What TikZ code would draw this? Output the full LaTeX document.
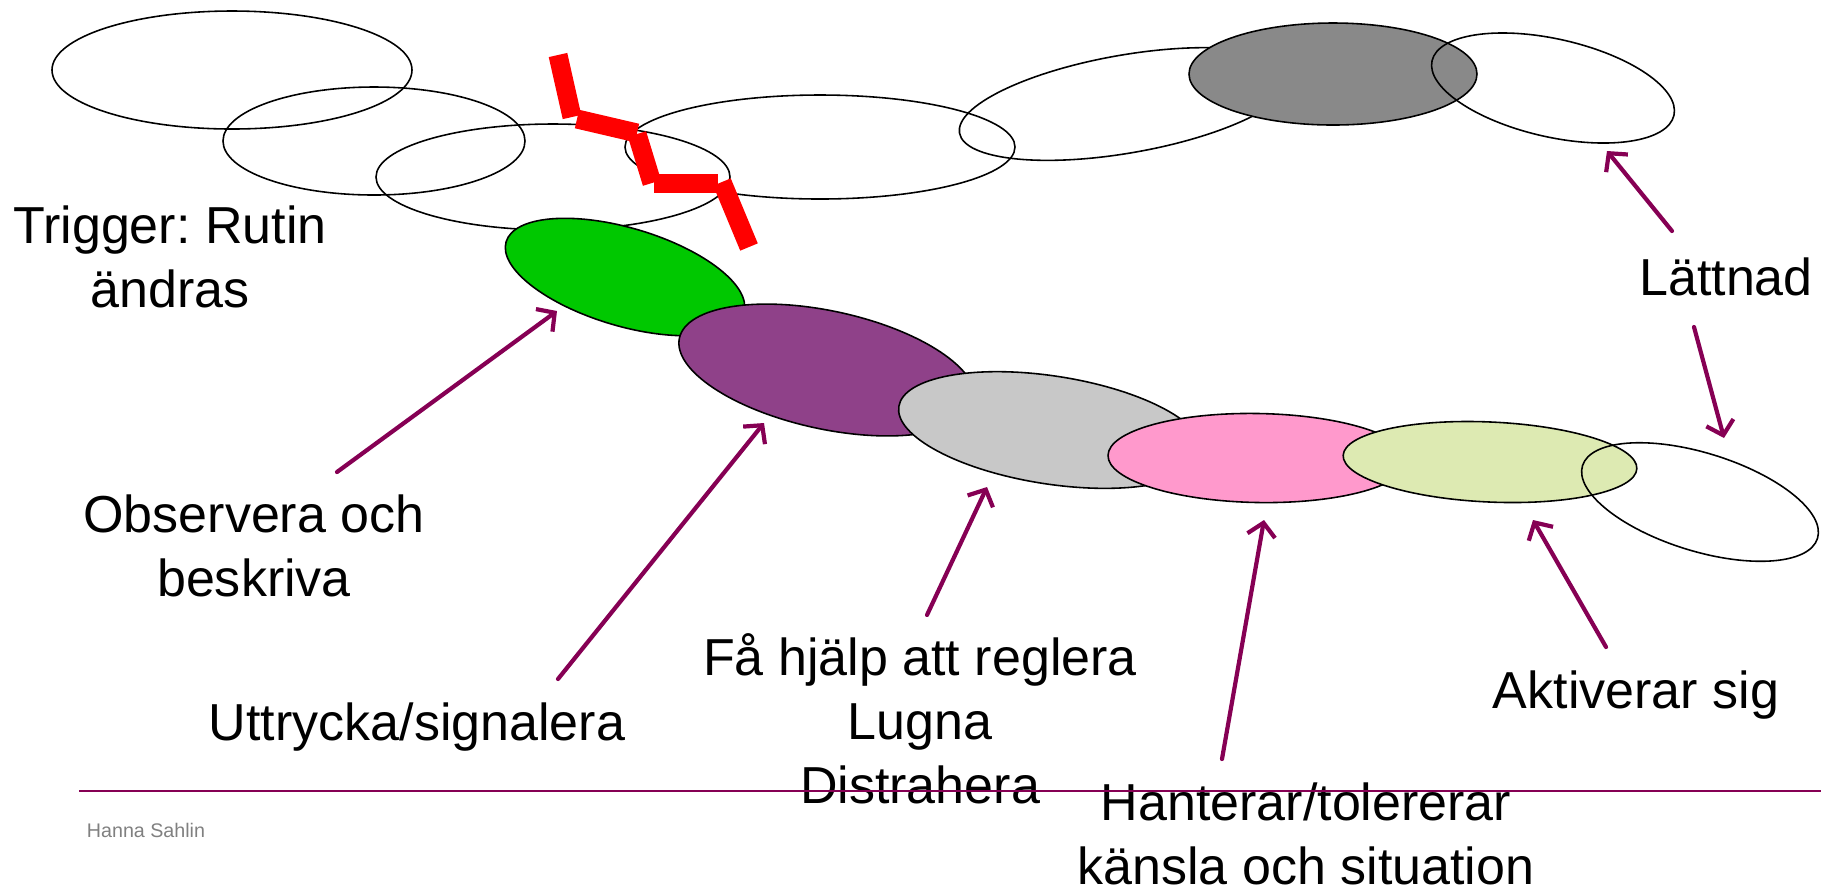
\documentclass[tikz,border=0pt]{standalone}
\usepackage{fontspec}
\setmainfont{Liberation Sans}
\usetikzlibrary{arrows.meta, shapes.geometric}
\definecolor{pilfarg}{RGB}{134,0,84}
\definecolor{gron}{RGB}{0,200,0}
\definecolor{lila}{RGB}{143,65,137}
\definecolor{ljusgra}{RGB}{200,200,200}
\definecolor{rosa}{RGB}{255,153,204}
\definecolor{ljusgron}{RGB}{221,234,178}
\definecolor{morkgra}{RGB}{137,137,137}
\frenchspacing

\begin{document}
\begin{tikzpicture}[
                x=0.1mm, y=-0.1mm,
                font=\fontsize{14.8}{18.2}\selectfont,
                ring/.style={ellipse, draw, line width=0.45pt, inner sep=0pt},
                blob/.style={ring, fill=#1},
                blixt/.style={draw=red, line width=1.9mm},
                pil/.style={draw=pilfarg, line width=0.42mm, line cap=round, -{Straight Barb[length=1.3mm, width=2.8mm]}},
                etikett/.style={align=center, inner sep=0pt, anchor=base},
                linje/.style={draw=pilfarg, line width=0.8pt}
            ]
                \useasboundingbox (0,0) rectangle (1828,887);

                % --- RINGAR (OBEN) ---
                \node[ring, minimum width=36mm, minimum height=11.8mm] (r1) at (232,70) {};
                \node[ring, minimum width=30.2mm, minimum height=10.8mm] (r2) at (374,141) {};
                \node[ring, minimum width=35.4mm, minimum height=10.6mm] (r3) at (553,177) {};
                \node[ring, minimum width=39mm, minimum height=10.4mm] (r4) at (820,147) {};
                \node[ring, minimum width=33.8mm, minimum height=9.8mm, rotate=9.9] (r5) at (1126,104) {};
                \node[blob=morkgra, minimum width=28.8mm, minimum height=10.2mm] (r6) at (1333,74) {};
                \node[ring, minimum width=24.8mm, minimum height=9.8mm, rotate=-12.7] (r7) at (1553,88) {};

                % --- BLIXT ---
                \draw[blixt] (558,55) -- (572,117);
                \draw[blixt] (577,119) -- (637,133);
                \draw[blixt] (637,134) -- (652,183);
                \draw[blixt] (654,183) -- (718,183);
                \draw[blixt] (722,182) -- (749,247);

                % --- KEDJA (UNTEN) ---
                \node[blob=gron, minimum width=24.8mm, minimum height=9.8mm, rotate=-16.5] (gron) at (625,277) {};
                \node[blob=lila, minimum width=30.2mm, minimum height=11.8mm, rotate=-12.2] (lila) at (827,370) {};
                \node[blob=ljusgra, minimum width=30.8mm, minimum height=10.8mm, rotate=-8.8] (gra) at (1051,430) {};
                \node[blob=rosa, minimum width=30mm, minimum height=8.9mm, rotate=-1] (rosa) at (1258,458) {};
                \node[blob=ljusgron, minimum width=29.4mm, minimum height=8mm, rotate=-2.6] (ljusgron) at (1490,462) {};
                \node[ring, minimum width=24.6mm, minimum height=9.8mm, rotate=-17.2] (sista) at (1700,502) {};

                % --- TEXTER (base = sista raden) ---
                \node[etikett] (trigger) at (170,307) {Trigger: Rutin\\ändras};
                \node[etikett] (observera) at (254,596) {Observera och\\beskriva};
                \node[etikett] (uttrycka) at (417,740) {Uttrycka/signalera};
                \node[etikett] (hjalp) at (920,803) {Få hjälp att reglera\\Lugna\\Distrahera};
                \node[etikett] (hanterar) at (1306,884) {Hanterar/tolererar\\känsla och situation};
                \node[etikett] (aktiverar) at (1636,708) {Aktiverar sig};
                \node[etikett] (lattnad) at (1726,295) {Lättnad};
                \node[etikett, font=\fontsize{5.6}{6.7}\selectfont, text=black!50] (namn) at (146,837) {Hanna Sahlin};

                % --- PILAR ---
                \coordinate (obsfot) at (337,472);   \coordinate (obsspets) at (557,311);
                \coordinate (uttfot) at (558,679);   \coordinate (uttspets) at (764,423);
                \coordinate (hjfot) at (927,615);    \coordinate (hjspets) at (987,487);
                \coordinate (hanfot) at (1222,759);  \coordinate (hanspets) at (1264,520);
                \coordinate (aktfot) at (1606,647);  \coordinate (aktspets) at (1533,520);
                \coordinate (lupfot) at (1672,231);  \coordinate (lupspets) at (1607,151);
                \coordinate (lnedfot) at (1694,327); \coordinate (lnedspets) at (1724,438);
                \draw[pil] (obsfot) -- (obsspets);
                \draw[pil] (uttfot) -- (uttspets);
                \draw[pil] (hjfot) -- (hjspets);
                \draw[pil] (hanfot) -- (hanspets);
                \draw[pil] (aktfot) -- (aktspets);
                \draw[pil] (lupfot) -- (lupspets);
                \draw[pil] (lnedfot) -- (lnedspets);

                % --- LINJE ---
                \coordinate (linjestart) at (79,791);
                \coordinate (linjeslut) at (1821,791);
                \draw[linje] (linjestart) -- (linjeslut);

            \end{tikzpicture}
\end{document}
